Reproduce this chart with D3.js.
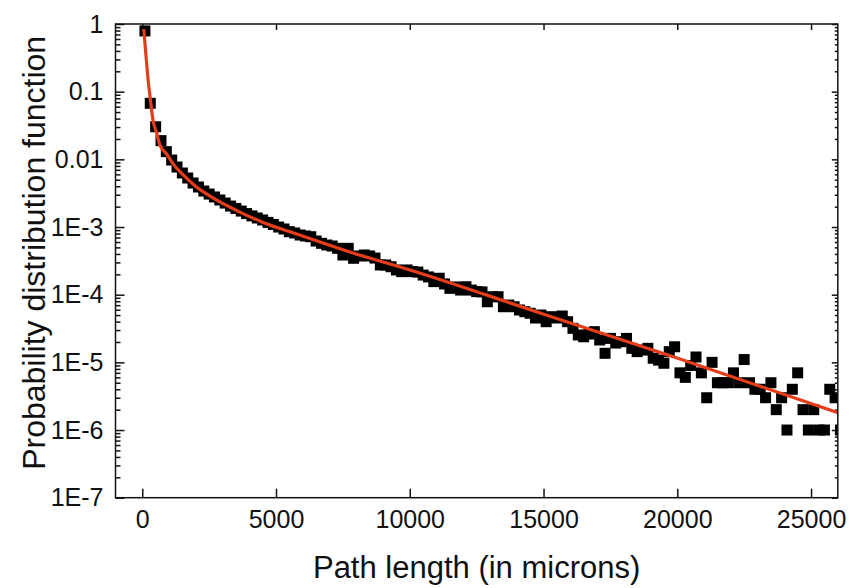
<!DOCTYPE html>
<html>
<head>
<meta charset="utf-8">
<script src="https://cdn.jsdelivr.net/npm/d3@7"></script>
<style>
  body { margin: 0; background: #fff; }
  text { font-family: "Liberation Sans", Arial, sans-serif; fill: #111; }
</style>
</head>
<body>
<svg id="chart" width="853" height="588"></svg>
<script>
// measured histogram (bin centres in microns) and its probability
const pathLength = [
  100, 300, 500, 700, 900, 1100, 1300, 1500, 1700, 1900,
  2100, 2300, 2500, 2700, 2900, 3100, 3300, 3500, 3700, 3900,
  4100, 4300, 4500, 4700, 4900, 5100, 5300, 5500, 5700, 5900,
  6100, 6300, 6500, 6700, 6900, 7100, 7300, 7500, 7700, 7900,
  8100, 8300, 8500, 8700, 8900, 9100, 9300, 9500, 9700, 9900,
  10100, 10300, 10500, 10700, 10900, 11100, 11300, 11500, 11700, 11900,
  12100, 12300, 12500, 12700, 12900, 13100, 13300, 13500, 13700, 13900,
  14100, 14300, 14500, 14700, 14900, 15100, 15300, 15500, 15700, 15900,
  16100, 16300, 16500, 16700, 16900, 17100, 17300, 17500, 17700, 17900,
  18100, 18300, 18500, 18700, 18900, 19100, 19300, 19500, 19700, 19900,
  20100, 20300, 20500, 20700, 20900, 21100, 21300, 21500, 21700, 21900,
  22100, 22300, 22500, 22700, 22900, 23100, 23300, 23500, 23700, 23900,
  24100, 24300, 24500, 24700, 24900, 25100, 25300, 25500, 25700, 25900,
  26100
]
const probability = [
  0.79, 0.0673, 0.0303, 0.0189, 0.0130, 0.00977, 0.00770, 0.00628, 0.00530, 0.00447,
  0.00390, 0.00340, 0.00307, 0.00278, 0.00251, 0.00226, 0.00204, 0.00188, 0.00172, 0.00158,
  0.00146, 0.00136, 0.00127, 0.00117, 0.00109, 1.00e-3, 9.35e-4, 8.53e-4, 8.16e-4, 7.62e-4,
  7.37e-4, 7.19e-4, 6.21e-4, 5.74e-4, 5.42e-4, 5.24e-4, 4.84e-4, 3.86e-4, 4.84e-4, 3.45e-4,
  3.73e-4, 3.86e-4, 3.73e-4, 3.48e-4, 2.75e-4, 2.75e-4, 2.59e-4, 2.32e-4, 2.19e-4, 2.32e-4,
  2.19e-4, 2.16e-4, 1.95e-4, 1.83e-4, 1.56e-4, 1.75e-4, 1.44e-4, 1.24e-4, 1.30e-4, 1.17e-4,
  1.31e-4, 1.17e-4, 1.11e-4, 1.10e-4, 7.87e-5, 9.33e-5, 9.33e-5, 6.64e-5, 7.03e-5, 6.64e-5,
  5.94e-5, 5.60e-5, 5.31e-5, 4.52e-5, 5.01e-5, 3.99e-5, 4.73e-5, 4.52e-5, 4.84e-5, 3.99e-5,
  3.18e-5, 2.54e-5, 2.39e-5, 2.62e-5, 2.84e-5, 2.14e-5, 1.36e-5, 2.26e-5, 1.93e-5, 2.02e-5,
  2.26e-5, 1.61e-5, 1.44e-5, 1.52e-5, 1.61e-5, 1.15e-5, 1.08e-5, 9.7e-6, 1.44e-5, 1.70e-5,
  7e-6, 6e-6, 9e-6, 1.2e-5, 7e-6, 3e-6, 1e-5, 5e-6, 5e-6, 5e-6,
  7e-6, 5e-6, 1.1e-5, 5e-6, 4e-6, 4e-6, 3e-6, 5e-6, 2e-6, 3e-6,
  1e-6, 4e-6, 7e-6, 2e-6, 1e-6, 2e-6, 1e-6, 1e-6, 4e-6, 3e-6,
  1e-6
]

// fitted curve
const fitLength = [56, 138, 213, 288, 400, 538, 662, 912, 1159, 1533, 1970, 2643, 3653, 4513, 5522, 7765, 10008, 14980, 19990, 26010]
const fitProbability = [0.843, 0.347, 0.158, 0.0863, 0.0381, 0.0245, 0.0162, 0.0120, 0.00851, 0.00589, 0.00407, 0.00269, 0.00166, 0.00117, 8.5e-4, 4.27e-4, 2.32e-4, 5.19e-5, 1.16e-5, 1.80e-6]

const xTicks = [0, 5000, 10000, 15000, 20000, 25000]
const yTicks = [1e-7, 1e-6, 1e-5, 1e-4, 1e-3, 0.01, 0.1, 1]
const yTickLabels = ['1E-7', '1E-6', '1E-5', '1E-4', '1E-3', '0.01', '0.1', '1']

const plotLeft = 115.5
const plotRight = 837.8
const plotTop = 24
const plotBottom = 497.7

const svg = d3.select('#chart')

const x = d3.scaleLinear().domain([-1000, 26000]).range([plotLeft, plotRight])
const y = d3.scaleLog().domain([1e-7, 1]).range([plotBottom, plotTop])

// minor log ticks 2..9 in each decade
const yMinor = []
for (let k = -7; k < 0; k++) {
  for (let m = 2; m <= 9; m++) yMinor.push(m * Math.pow(10, k))
}

svg.append('clipPath').attr('id', 'plot-clip')
  .append('rect')
  .attr('x', plotLeft).attr('y', plotTop)
  .attr('width', plotRight - plotLeft).attr('height', plotBottom - plotTop)

// axes, ticks pointing into the plot
const axisStyle = g => {
  g.select('.domain').remove()
  g.selectAll('line').attr('stroke', '#111').attr('stroke-width', 1.5)
  g.selectAll('text').attr('font-size', 25).attr('fill', '#111')
}

svg.append('g')
  .attr('transform', `translate(0,${plotBottom})`)
  .call(d3.axisBottom(x).tickValues(xTicks).tickFormat(d3.format('d')).tickSize(-9).tickPadding(13))
  .call(axisStyle)

svg.append('g')
  .attr('transform', `translate(0,${plotTop})`)
  .call(d3.axisTop(x).tickValues(xTicks).tickFormat('').tickSize(-6))
  .call(axisStyle)

svg.append('g')
  .attr('transform', `translate(${plotLeft},0)`)
  .call(d3.axisLeft(y).tickValues(yTicks).tickFormat((d, i) => yTickLabels[i]).tickSize(-9).tickPadding(12))
  .call(axisStyle)

svg.append('g')
  .attr('transform', `translate(${plotLeft},0)`)
  .call(d3.axisLeft(y).tickValues(yMinor).tickFormat('').tickSize(-5))
  .call(axisStyle)

svg.append('g')
  .attr('transform', `translate(${plotRight},0)`)
  .call(d3.axisRight(y).tickValues(yTicks).tickFormat('').tickSize(-6))
  .call(axisStyle)

svg.append('g')
  .attr('transform', `translate(${plotRight},0)`)
  .call(d3.axisRight(y).tickValues(yMinor).tickFormat('').tickSize(-3))
  .call(axisStyle)

// data squares
const size = 11
svg.append('g')
  .attr('clip-path', 'url(#plot-clip)')
  .selectAll('rect')
  .data(pathLength)
  .enter()
  .append('rect')
  .attr('x', d => x(d) - size / 2)
  .attr('y', (d, i) => y(probability[i]) - size / 2)
  .attr('width', size)
  .attr('height', size)
  .attr('fill', '#000')

// fit line
const fitLine = d3.line()
  .x(d => x(d[0]))
  .y(d => y(d[1]))
  .curve(d3.curveMonotoneX)

svg.append('path')
  .datum(d3.zip(fitLength, fitProbability))
  .attr('clip-path', 'url(#plot-clip)')
  .attr('d', fitLine)
  .attr('fill', 'none')
  .attr('stroke', '#e63c1a')
  .attr('stroke-width', 3.2)

// frame
svg.append('rect')
  .attr('x', plotLeft).attr('y', plotTop)
  .attr('width', plotRight - plotLeft).attr('height', plotBottom - plotTop)
  .attr('fill', 'none')
  .attr('stroke', '#111')
  .attr('stroke-width', 1.5)

// axis titles
svg.append('text')
  .attr('x', (plotLeft + plotRight) / 2)
  .attr('y', 578)
  .attr('text-anchor', 'middle')
  .attr('font-size', 31)
  .text('Path length (in microns)')

svg.append('text')
  .attr('transform', `translate(45,${(plotTop + plotBottom) / 2 - 8}) rotate(-90)`)
  .attr('text-anchor', 'middle')
  .attr('font-size', 32)
  .text('Probability distribution function')
</script>
</body>
</html>
